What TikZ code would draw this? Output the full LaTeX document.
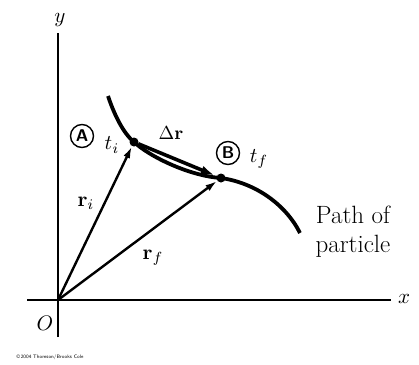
\documentclass[tikz,border=0pt]{standalone}
\usetikzlibrary{arrows.meta}
\begin{document}
\begin{tikzpicture}[x=1pt,y=-1pt,
    axis/.style={line width=2pt},
    vec/.style={line width=2.4pt,-{Latex[length=12pt,width=7pt]}},
    dvec/.style={line width=3.6pt,-{Latex[length=14pt,width=9pt]},shorten >=2pt},
    pathline/.style={line width=3.8pt},
    dot/.style={circle,fill,inner sep=0pt,minimum size=9pt},
    tag/.style={circle,draw,line width=1.4pt,inner sep=0pt,minimum size=23pt,
      font=\sffamily\bfseries\fontsize{17}{17}\selectfont},
    lab/.style={scale=2.1},
    txt/.style={font=\fontsize{25}{29}\selectfont,align=center}]
  \useasboundingbox (0,0) rectangle (419,364);
  % axes
  \coordinate (O) at (58,300);
  \coordinate (ytop) at (58,33);
  \coordinate (ybot) at (58,337);
  \coordinate (xleft) at (27,300);
  \coordinate (xright) at (391,300);
  \draw[axis] (ybot) -- (ytop);
  \draw[axis] (xleft) -- (xright);
  \node[lab] (ylab) at (60,20) {$y$};
  \node[lab] (xlab) at (404,299) {$x$};
  \node[lab] (olab) at (45,323) {$O$};
  % the two positions
  \node[dot] (ti) at (134,142) {};
  \node[dot] (tf) at (221,178) {};
  % path of the particle
  \draw[pathline] (108,96) .. controls (114,114) and (123,133) .. (ti.center)
    .. controls (150,157) and (190,176) .. (tf.center)
    .. controls (256,183) and (286,205) .. (300,233);
  % vectors
  \draw[vec] (O) -- (ti);
  \draw[vec] (O) -- (tf);
  \draw[dvec] (ti) -- (tf);
  % labels
  \node[tag] (A) at (82,136) {A};
  \node[tag] (B) at (228,153) {B};
  \node[lab] (tilab) at (112,145) {$t_i$};
  \node[lab] (tflab) at (259,159) {$t_f$};
  \node[lab,scale=0.9] (dr) at (171,133) {$\Delta\mathbf{r}$};
  \node[lab] (ri) at (86,203) {$\mathbf{r}_i$};
  \node[lab] (rf) at (153,258) {$\mathbf{r}_f$};
  \node[txt] (pathlab) at (353,232) {Path of\\particle};
  \node[anchor=west,font=\sffamily\fontsize{5}{6}\selectfont] (copy) at (13,357)
    {\textcopyright\,2004 Thomson/Brooks Cole};
\end{tikzpicture}
\end{document}
